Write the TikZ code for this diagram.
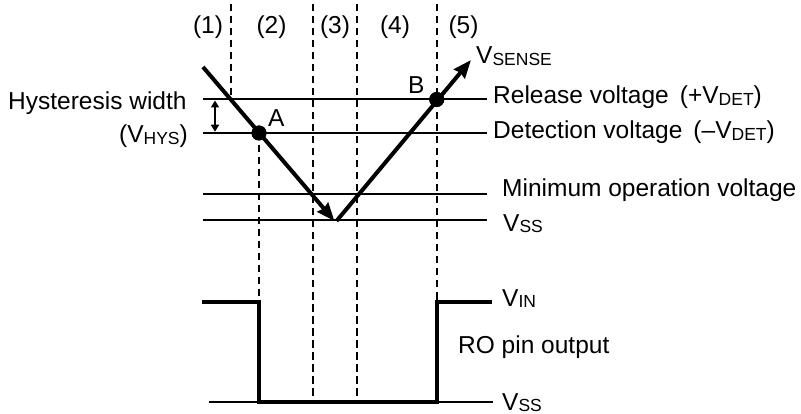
\documentclass[tikz,border=0pt]{standalone}
\usepackage{fontspec}
\setmainfont{Liberation Sans}
\usetikzlibrary{arrows.meta}
\newcommand\sbs[1]{\raisebox{-1.2pt}{\fontsize{17.5}{20}\selectfont #1}}
\tikzset{
  lbl/.style={inner sep=0pt, font=\fontsize{24.5}{29}\selectfont},
  thin/.style={line width=2pt},
  thick/.style={line width=4pt},
  dashln/.style={line width=2pt, dash pattern=on 7.5pt off 4.5pt},
  bigarrow/.style={line width=4pt, -{Stealth[length=18pt,width=14pt,inset=1.5pt]}},
  dot/.style={circle, fill=black, inner sep=0pt, minimum size=15pt},
}
\begin{document}
\begin{tikzpicture}[x=1pt,y=-1pt]
\useasboundingbox (0,0) rectangle (801,414);
% key points
\coordinate (s0) at (203,67);
\coordinate (vtip) at (334.5,221);
\coordinate (vstart) at (336.5,221);
\coordinate (rtip) at (471,60);
\node[dot] (A) at (259,133) {};
\node[dot] (B) at (436.7,99.5) {};
% horizontal thin lines
\coordinate (relL) at (203,99.5);   \coordinate (relR) at (487,99.5);
\coordinate (detL) at (203,132.7);  \coordinate (detR) at (487,132.7);
\coordinate (minL) at (203,194.3);  \coordinate (minR) at (487,194.3);
\coordinate (vssL) at (203,220.5);  \coordinate (vssR) at (487,220.5);
\coordinate (bvL) at (209,402);     \coordinate (bvR) at (493,402);
\draw[thin] (relL) -- (relR);
\draw[thin] (detL) -- (detR);
\draw[thin] (minL) -- (minR);
\draw[thin] (vssL) -- (vssR);
\draw[thin] (bvL) -- (bvR);
% dashed separators
\coordinate (d1t) at (231,4);    \coordinate (d1b) at (231,99.5);
\coordinate (d2b) at (259,402);
\coordinate (d3t) at (313,4);    \coordinate (d3b) at (313,402);
\coordinate (d4t) at (357,4);    \coordinate (d4b) at (357,402);
\coordinate (d5t) at (436.7,4);  \coordinate (d5b) at (436.7,302);
\draw[dashln] (d1t) -- (d1b);
\draw[dashln] (A.center) -- (d2b);
\draw[dashln] (d3t) -- (d3b);
\draw[dashln] (d4t) -- (d4b);
\draw[dashln] (d5t) -- (d5b);
% sense voltage
\draw[bigarrow] (s0) -- (vtip);
\draw[bigarrow] (vstart) -- (rtip);
\node[dot] at (A.center) {};
\node[dot] at (B.center) {};
% hysteresis arrow
\coordinate (h1) at (215,100.5);
\coordinate (h2) at (215,131.7);
\draw[thin, {Triangle[length=7pt,width=8pt]}-{Triangle[length=7pt,width=8pt]}] (h1) -- (h2);
% output pulse
\coordinate (p0) at (202,302);
\coordinate (p1) at (259,302);
\coordinate (p2) at (259,402);
\coordinate (p3) at (436.7,402);
\coordinate (p4) at (436.7,302);
\coordinate (p5) at (492,302);
\draw[thick, line join=miter] (p0) -- (p1) -- (p2) -- (p3) -- (p4) -- (p5);
% labels
\node[lbl, anchor=base] (n1) at (208,33.3) {(1)};
\node[lbl, anchor=base] (n2) at (271.5,33.3) {(2)};
\node[lbl, anchor=base] (n3) at (335,33.3) {(3)};
\node[lbl, anchor=base] (n4) at (395,33.3) {(4)};
\node[lbl, anchor=base] (n5) at (463.5,33.3) {(5)};
\node[lbl, anchor=base west] (hw) at (8,110) {Hysteresis width};
\node[lbl, anchor=base east] (hys) at (188,143) {(V\sbs{HYS})};
\node[lbl, anchor=base west] (la) at (268,127) {A};
\node[lbl, anchor=base west] (lb) at (408,94) {B};
\node[lbl, anchor=base west] (vs) at (476,64) {V\sbs{SENSE}};
\node[lbl, anchor=base west] (rel) at (493,104) {Release voltage\hspace{0.45em}(+V\sbs{DET})};
\node[lbl, anchor=base west] (det) at (493,139) {Detection voltage\hspace{0.45em}(–V\sbs{DET})};
\node[lbl, anchor=base west] (mov) at (502,197) {Minimum operation voltage};
\node[lbl, anchor=base west] (vss1) at (503,231.5) {V\sbs{SS}};
\node[lbl, anchor=base west] (vin) at (502,306.5) {V\sbs{IN}};
\node[lbl, anchor=base west] (ro) at (458,353) {RO pin output};
\node[lbl, anchor=base west] (vss2) at (502,410) {V\sbs{SS}};
\end{tikzpicture}
\end{document}
